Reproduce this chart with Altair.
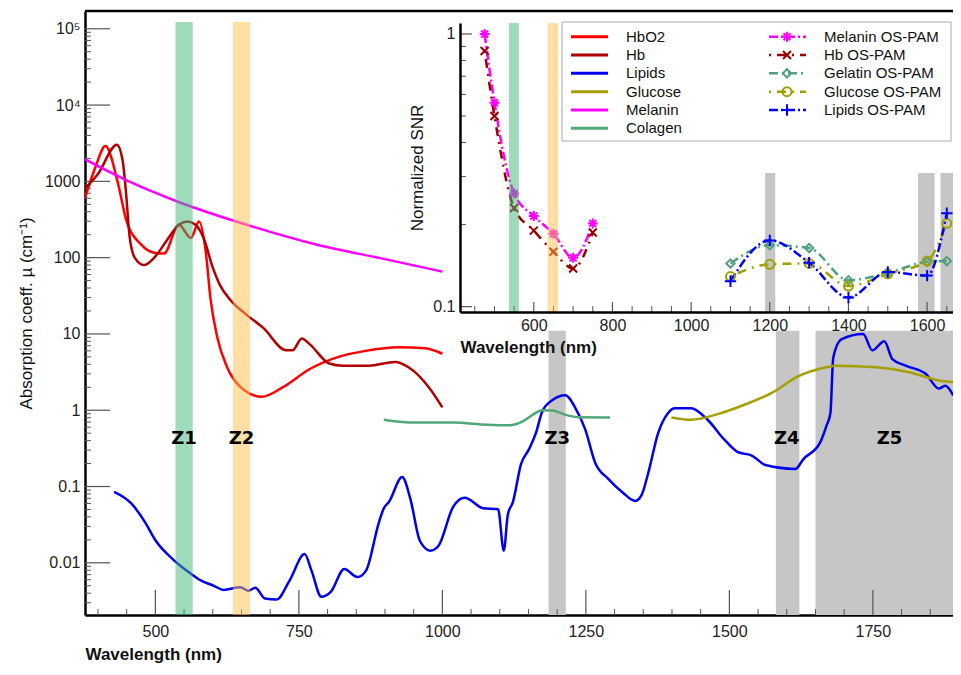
import altair as alt
import pandas as pd

# ---------------- main chart data (absorption coefficients, cm^-1) ----------------
hbo2_wl = [377, 395, 413, 435, 449, 475, 498, 515, 541, 562, 576, 588, 596, 608, 625, 648, 685, 723, 769, 815, 866, 924, 970, 1000]
hbo2_mu = [595, 1500, 2900, 930, 315, 149, 116, 113, 270, 181, 298, 116, 29, 8.9, 3.66, 2.02, 1.5, 2.02, 3.47, 4.9, 6.0, 6.7, 6.5, 5.5]

hb_wl = [377, 400, 433, 443, 449, 455, 464, 480, 498, 521, 541, 556, 570, 585, 599, 613, 631, 659, 688, 728, 739, 755, 769, 803, 826, 872, 918, 941, 976, 1000]
hb_mu = [800, 1250, 3030, 1860, 690, 191, 100, 80, 100, 173, 270, 298, 270, 173, 78, 43, 27.7, 17.8, 12, 6.1, 6.1, 8.7, 7.3, 4.1, 3.84, 3.84, 4.3, 3.66, 2.02, 1.09]

mel_wl = [377, 450, 544, 659, 780, 900, 1000]
mel_mu = [1950, 1030, 525, 270, 149, 95.6, 65.6]

col_wl = [898, 944, 1019, 1077, 1117, 1140, 1157, 1174, 1192, 1215, 1238, 1292]
col_mu = [0.75, 0.69, 0.69, 0.647, 0.635, 0.715, 0.87, 1.0, 0.99, 0.87, 0.81, 0.805]

glu_wl = [1399, 1433, 1485, 1525, 1577, 1617, 1669, 1686, 1756, 1813, 1865, 1890]
glu_mu = [0.805, 0.75, 0.915, 1.17, 1.74, 2.72, 3.66, 3.84, 3.66, 3.15, 2.46, 2.34]

lip_wl = [428, 458, 481, 501, 533, 562, 579, 602, 619, 648, 662, 674, 691, 711, 734, 760, 772, 789, 806, 829,
          852, 867, 889, 898, 907, 930, 944, 961, 979, 993, 1019, 1039, 1071, 1097, 1107, 1114, 1123, 1137, 1151, 1163,
          1174, 1192, 1214, 1232, 1249, 1266, 1289, 1313, 1336, 1347, 1359, 1376, 1393, 1405, 1433, 1462, 1491, 1514,
          1540, 1563, 1615, 1629, 1658, 1669, 1676, 1681, 1695, 1733, 1749, 1770, 1784, 1807, 1842, 1865, 1876, 1890]
lip_mu = [0.085, 0.060, 0.035, 0.0193, 0.0107, 0.0072, 0.0059, 0.0050, 0.0044, 0.0048, 0.0043, 0.0047, 0.0034, 0.0033, 0.0059, 0.013, 0.0079, 0.0036, 0.0042, 0.0083,
          0.0065, 0.0079, 0.033, 0.052, 0.063, 0.133, 0.070, 0.0193, 0.0144, 0.0166, 0.0546, 0.0713, 0.052, 0.0504, 0.0144, 0.0427, 0.063, 0.197, 0.309, 0.505,
          0.96, 1.36, 1.57, 1.06, 0.557, 0.207, 0.126, 0.085, 0.0646, 0.077, 0.154, 0.505, 0.915, 1.06, 1.06, 0.75, 0.414, 0.285,
          0.253, 0.191, 0.17, 0.229, 0.376, 0.62, 0.915, 4.92, 8.5, 10, 6.1, 8.05, 4.68, 3.84, 3.0, 1.92, 2.1, 1.57]

main_names = ["HbO2", "Hb", "Lipids", "Glucose", "Melanin", "Colagen"]
main_colors = ["#ff0000", "#b00000", "#0000ee", "#a5a000", "#ff00ff", "#50a878"]

# zones
zone_names = ["Z1", "Z2", "Z3", "Z4", "Z5"]
zone_wl = [550, 650, 1200, 1600, 1779]
zone_val = [0.42, 0.42, 0.42, 0.42, 0.42]

band_start = [535, 635, 1185, 1581, 1650]
band_end = [565, 665, 1215, 1622, 1890]
band_top = [1.23e5, 1.23e5, 11, 11, 11]

# ---------------- inset data (normalized SNR) ----------------
vis_wl = [475, 500, 550, 600, 650, 700, 750]
melanin_os = [1.0, 0.56, 0.26, 0.215, 0.185, 0.151, 0.202]
hb_os = [0.866, 0.50, 0.23, 0.19, 0.159, 0.138, 0.187]
nir_wl = [1100, 1200, 1300, 1400, 1500, 1600, 1650]
gelatin_os = [0.144, 0.168, 0.164, 0.125, 0.133, 0.146, 0.147]
glucose_os = [0.129, 0.143, 0.144, 0.119, 0.132, 0.147, 0.202]
lipids_os = [0.124, 0.175, 0.145, 0.108, 0.134, 0.130, 0.22]

os_names = ["Melanin OS-PAM", "Hb OS-PAM", "Gelatin OS-PAM", "Glucose OS-PAM", "Lipids OS-PAM"]
os_colors = ["#ff00ff", "#990000", "#50a080", "#a0a000", "#0000ff"]
os_dashes = [[9, 3, 2, 3], [2, 6, 9, 6], [9, 4, 2, 4], [2, 6, 9, 6], [9, 3, 2, 3]]
STAR = "M-1,0L1,0M0,-1L0,1M-0.7,-0.7L0.7,0.7M-0.7,0.7L0.7,-0.7"
XMARK = "M-0.8,-0.8L0.8,0.8M-0.8,0.8L0.8,-0.8"
PLUS = "M-1,0L1,0M0,-1L0,1"
os_shapes = [STAR, XMARK, "diamond", "circle", PLUS]
os_sizes = [100, 100, 70, 80, 130]

in_band_start = [537, 635, 1188, 1577, 1634]
in_band_end = [562, 662, 1214, 1619, 1666]
in_band_top = [1.097, 1.097, 0.309, 0.309, 0.309]

# ---------------- layout ----------------
W, H = 868, 604
FONT = "Liberation Sans"
IN_X0, IN_X1, IN_Y0, IN_Y1 = 375, 868, 12, 301
GREEN, ORANGE, GRAY = "#3cb878", "#ffc04d", "#c6c6c6"

x_main = alt.Scale(domain=[377.4, 1889.6], nice=False, zero=False)
y_main = alt.Scale(type="log", domain=[0.00207, 1.71e5], nice=False)
ax_x_main = alt.Axis(values=[500, 750, 1000, 1250, 1500, 1750], format="d", ticks=False, grid=False,
                     domainColor="black", domainWidth=2.5, labelFontSize=16, labelColor="#222",
                     labelPadding=8, labelFont=FONT, title="Wavelength (nm)", titleFont=FONT,
                     titleFontSize=17, titleFontWeight="bold", titleAnchor="start", titleAlign="left",
                     titleX=0, titleY=44, titleBaseline="alphabetic", titleColor="#111")
ax_y_main = alt.Axis(values=[0.01, 0.1, 1, 10, 100, 1000, 10000, 100000], ticks=False, grid=False,
                     labelExpr="datum.value > 50000 ? '10⁵' : datum.value > 5000 ? '10⁴' : datum.value >= 1 ? format(datum.value, 'd') : format(datum.value, '.2~f')",
                     domainColor="black", domainWidth=2.5, labelFontSize=16, labelColor="#222",
                     labelPadding=5, labelFont=FONT, title="Absorption coeff.  µ (cm⁻¹)", titleFont=FONT,
                     titleFontSize=17, titleFontWeight="normal", titlePadding=9, titleColor="#111")

X = lambda f="wl": alt.X(f + ":Q", scale=x_main, axis=ax_x_main)
Y = lambda f="val": alt.Y(f + ":Q", scale=y_main, axis=ax_y_main)

# ---- main data frames
series = [(hbo2_wl, hbo2_mu), (hb_wl, hb_mu), (lip_wl, lip_mu), (glu_wl, glu_mu), (mel_wl, mel_mu), (col_wl, col_mu)]
main_df = pd.concat([pd.DataFrame({"wl": w, "val": v, "series": n}) for (w, v), n in zip(series, main_names)])
col_enc = alt.Color("series:N", scale=alt.Scale(domain=main_names, range=main_colors), legend=None)

bands_df = pd.DataFrame({"wl": band_start, "wl2": band_end, "val": [0.00207] * 5, "val2": band_top,
                         "kind": ["g", "o", "x", "x", "x"]})
zones_df = pd.DataFrame({"wl": zone_wl, "val": zone_val, "label": zone_names})

major_x = [500, 750, 1000, 1250, 1500, 1750]
minor_x = [w for w in range(400, 1900, 50) if w not in major_x]
major_y = [0.01, 0.1, 1, 10, 100, 1000, 10000, 100000]
minor_y = [k * 10.0 ** e for e in range(-3, 6) for k in range(2, 10) if 0.00207 < k * 10.0 ** e < 1.71e5]


def band_layer(df, kind, color, opacity, xf, yf):
    return alt.Chart(df[df.kind == kind]).mark_rect(color=color, opacity=opacity).encode(
        x=xf(), x2="wl2", y=yf(), y2="val2")


gray_bands = band_layer(bands_df, "x", GRAY, 1, X, Y)
green_band = band_layer(bands_df, "g", GREEN, 0.5, X, Y)
orange_band = band_layer(bands_df, "o", ORANGE, 0.5, X, Y)
lines = alt.Chart(main_df).mark_line(
    strokeWidth=2.5, interpolate="monotone", clip=True).encode(x=X(), y=Y(), color=col_enc, detail="series:N")
zone_text = alt.Chart(zones_df).mark_text(font="DejaVu Sans", fontWeight="bold", fontSize=18, color="black").encode(
    x=X(), y=Y(), text="label:N")
tick_x_major = alt.Chart(pd.DataFrame({"wl": major_x})).mark_rule(color="#555", strokeWidth=1.2).encode(
    x=X(), y=alt.value(H), y2=alt.value(H - 25))
tick_x_minor = alt.Chart(pd.DataFrame({"wl": minor_x})).mark_rule(color="#555", strokeWidth=1).encode(
    x=X(), y=alt.value(H), y2=alt.value(H - 6))
tick_y_major = alt.Chart(pd.DataFrame({"val": major_y})).mark_rule(color="#555", strokeWidth=1.2).encode(
    y=Y(), x=alt.value(0), x2=alt.value(25))
tick_y_minor = alt.Chart(pd.DataFrame({"val": minor_y})).mark_rule(color="#555", strokeWidth=1).encode(
    y=Y(), x=alt.value(0), x2=alt.value(6))
one = pd.DataFrame({"a": [0]})
top_frame = alt.Chart(one).mark_rule(color="black", strokeWidth=2.5).encode(
    x=alt.value(0), x2=alt.value(W), y=alt.value(0))

main_group = alt.layer(gray_bands, tick_x_major, tick_x_minor, tick_y_major, tick_y_minor,
                       lines, green_band, orange_band, zone_text, top_frame)

# ---------------- inset ----------------
x_in = alt.Scale(domain=[412.4, 1665.8], range=[IN_X0, IN_X1], nice=False, zero=False)
y_in = alt.Scale(type="log", domain=[0.0956, 1.097], range=[IN_Y1, IN_Y0], nice=False)
ax_x_in = alt.Axis(orient="bottom", offset=IN_Y1 - H, values=[600, 800, 1000, 1200, 1400, 1600], format="d",
                   ticks=False, grid=False, domainColor="black", domainWidth=2.5, labelFontSize=16,
                   labelColor="#222", labelPadding=5, labelFont=FONT, title="Wavelength (nm)", titleFont=FONT,
                   titleFontSize=17, titleFontWeight="bold", titleAnchor="start", titlePadding=6,
                   titleColor="#111", zindex=2)
ax_y_in = alt.Axis(orient="left", offset=-IN_X0, values=[0.1, 1], ticks=False, grid=False,
                   labelExpr="datum.value > 0.5 ? '1' : '0.1'",
                   domainColor="black", domainWidth=2.5, labelFontSize=16, labelColor="#222",
                   labelPadding=5, labelFont=FONT, title="Normalized SNR", titleFont=FONT,
                   titleFontSize=17, titleFontWeight="normal", titlePadding=6, titleColor="#111", zindex=2)
XI = lambda f="wl": alt.X(f + ":Q", scale=x_in, axis=ax_x_in)
YI = lambda f="val": alt.Y(f + ":Q", scale=y_in, axis=ax_y_in)

os_series = [(vis_wl, melanin_os), (vis_wl, hb_os), (nir_wl, gelatin_os), (nir_wl, glucose_os), (nir_wl, lipids_os)]
os_df = pd.concat([pd.DataFrame({"wl": w, "val": v, "series": n}) for (w, v), n in zip(os_series, os_names)])
os_color = alt.Color("series:N", scale=alt.Scale(domain=os_names, range=os_colors), legend=None)

in_bands_df = pd.DataFrame({"wl": in_band_start, "wl2": in_band_end, "val": [0.0956] * 5, "val2": in_band_top,
                            "kind": ["g", "o", "x", "x", "x"]})
in_gray = band_layer(in_bands_df, "x", GRAY, 1, XI, YI)
in_green = band_layer(in_bands_df, "g", GREEN, 0.5, XI, YI)
in_orange = band_layer(in_bands_df, "o", ORANGE, 0.5, XI, YI)
in_lines = alt.Chart(os_df).mark_line(strokeWidth=2.5, interpolate="monotone").encode(
    x=XI(), y=YI(), color=os_color,
    strokeDash=alt.StrokeDash("series:N", scale=alt.Scale(domain=os_names, range=os_dashes), legend=None))
in_points = []
for n, c, s, z in zip(os_names, os_colors, os_shapes, os_sizes):
    in_points.append(alt.Chart(os_df[os_df.series == n]).mark_point(
        shape=s, size=z, filled=False, strokeWidth=2, color=c, opacity=1).encode(x=XI(), y=YI()))

in_major_x = [600, 800, 1000, 1200, 1400, 1600]
in_minor_x = [w for w in range(450, 1700, 50) if w not in in_major_x]
in_minor_y = [0.2, 0.3, 0.4, 0.5, 0.6, 0.7, 0.8, 0.9]
in_ticks = [
    alt.Chart(pd.DataFrame({"wl": in_major_x})).mark_rule(color="#555", strokeWidth=1.2).encode(
        x=XI(), y=alt.value(IN_Y1), y2=alt.value(IN_Y1 - 10)),
    alt.Chart(pd.DataFrame({"wl": in_minor_x})).mark_rule(color="#555", strokeWidth=1).encode(
        x=XI(), y=alt.value(IN_Y1), y2=alt.value(IN_Y1 - 6)),
    alt.Chart(pd.DataFrame({"val": [0.1, 1]})).mark_rule(color="#555", strokeWidth=1.2).encode(
        y=YI(), x=alt.value(IN_X0), x2=alt.value(IN_X0 + 12)),
    alt.Chart(pd.DataFrame({"val": in_minor_y})).mark_rule(color="#555", strokeWidth=1).encode(
        y=YI(), x=alt.value(IN_X0), x2=alt.value(IN_X0 + 6)),
]

# ---------------- legend (drawn as a box) ----------------
LX0, LX1, LY0, LY1 = 477, 866, 11, 130
row_y = [LY0 + 14.7 + i * 18.33 for i in range(6)]
leg = [alt.Chart(one).mark_rect(fill="white", stroke="#aaaaaa", strokeWidth=1).encode(
    x=alt.value(LX0), x2=alt.value(LX1), y=alt.value(LY0), y2=alt.value(LY1))]
for i, (n, c) in enumerate(zip(main_names, main_colors)):
    leg.append(alt.Chart(one).mark_rule(color=c, strokeWidth=3).encode(
        x=alt.value(LX0 + 9), x2=alt.value(LX0 + 46), y=alt.value(row_y[i])))
    leg.append(alt.Chart(one).mark_text(align="left", baseline="middle", fontSize=15, font=FONT, color="#111").encode(
        x=alt.value(LX0 + 64), y=alt.value(row_y[i]), text=alt.value(n)))
for i, (n, c, d, s, z) in enumerate(zip(os_names, os_colors, os_dashes, os_shapes, os_sizes)):
    leg.append(alt.Chart(one).mark_rule(color=c, strokeWidth=2.5, strokeDash=d).encode(
        x=alt.value(LX0 + 207), x2=alt.value(LX0 + 244), y=alt.value(row_y[i])))
    leg.append(alt.Chart(one).mark_point(shape=s, size=z, filled=False, strokeWidth=2, color=c, opacity=1).encode(
        x=alt.value(LX0 + 225), y=alt.value(row_y[i])))
    leg.append(alt.Chart(one).mark_text(align="left", baseline="middle", fontSize=15, font=FONT, color="#111").encode(
        x=alt.value(LX0 + 262), y=alt.value(row_y[i]), text=alt.value(n)))

inset_group = alt.layer(in_gray, *in_ticks, in_lines, *in_points, in_green, in_orange, *leg)

chart = alt.layer(main_group, inset_group).resolve_scale(
    x="independent", y="independent", color="independent", strokeDash="independent"
).resolve_axis(x="independent", y="independent").properties(
    width=W, height=H,
    autosize=alt.AutoSizeParams(type="none"),
    padding={"left": 77, "top": 3, "right": 0, "bottom": 48},
).configure_view(stroke=None).configure(font=FONT)

chart.save("out.html", embed_options={"renderer": "svg", "actions": False})
